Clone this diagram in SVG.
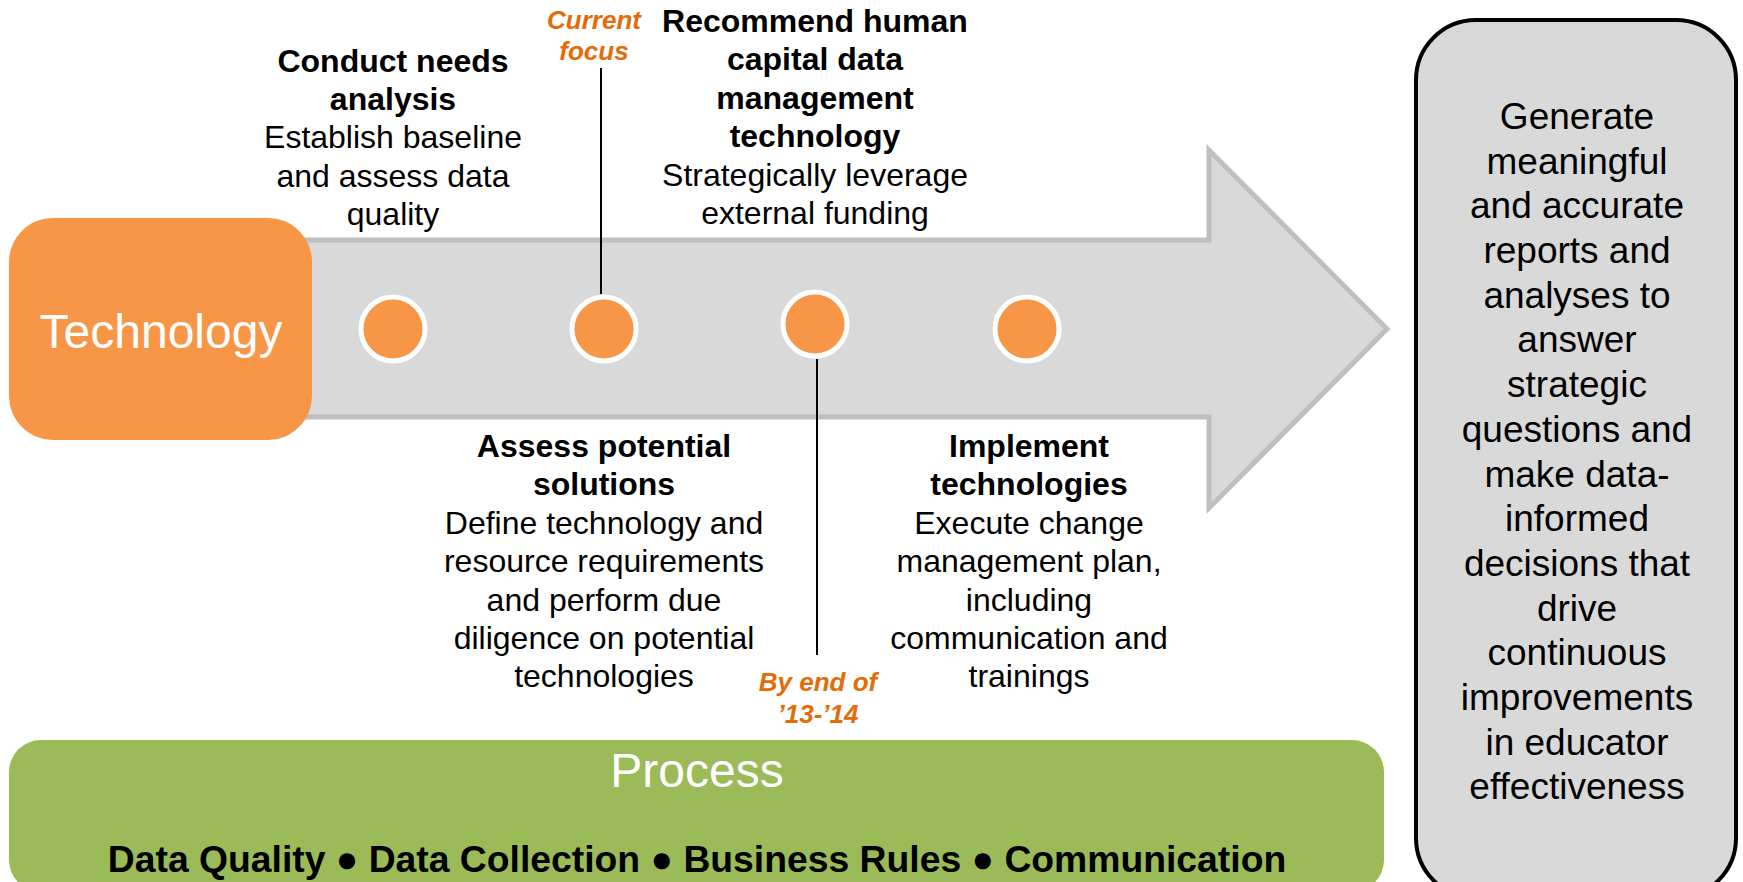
<svg xmlns="http://www.w3.org/2000/svg" width="1743" height="882" viewBox="0 0 1743 882">
<style>
text{font-family:"Liberation Sans",Arial,sans-serif;text-anchor:middle}
.h{font-size:32px;font-weight:bold;fill:#000}
.b{font-size:32px;fill:#000}
.o{font-size:26px;font-weight:bold;font-style:italic;fill:#E36C09}
.dot{fill:#F79646;stroke:#FFFFFF;stroke-width:5}
.ln{stroke:#000;stroke-width:2;fill:none}
</style>
<rect width="1743" height="882" fill="#FFFFFF"/>
<g id="arrow">
<polygon points="280,240 1209,240 1209,150 1387,329 1209,508 1209,417 280,417" fill="#D9D9D9" stroke="#BFBFBF" stroke-width="5"/>
</g>
<g id="technology">
<rect x="9" y="218" width="303" height="222" rx="44" fill="#F79646"/>
<text x="161" y="348" style="font-size:48px;fill:#FFFFFF">Technology</text>
</g>
<g id="connectors">
<line class="ln" x1="601" y1="68" x2="601" y2="294"/>
<line class="ln" x1="817" y1="359" x2="817" y2="655"/>
</g>
<g id="milestone1"><circle class="dot" cx="393" cy="329" r="32"/></g>
<g id="milestone2"><circle class="dot" cx="604" cy="329" r="32"/></g>
<g id="milestone3"><circle class="dot" cx="815" cy="324" r="32"/></g>
<g id="milestone4"><circle class="dot" cx="1027" cy="329" r="32"/></g>
<g id="step1">
<text class="h" x="393" y="72">Conduct needs</text>
<text class="h" x="393" y="110">analysis</text>
<text class="b" x="393" y="148">Establish baseline</text>
<text class="b" x="393" y="187">and assess data</text>
<text class="b" x="393" y="225">quality</text>
</g>
<g id="current-focus">
<text class="o" x="594" y="29">Current</text>
<text class="o" x="594" y="60">focus</text>
</g>
<g id="step3">
<text class="h" x="815" y="32">Recommend human</text>
<text class="h" x="815" y="70">capital data</text>
<text class="h" x="815" y="109">management</text>
<text class="h" x="815" y="147">technology</text>
<text class="b" x="815" y="186">Strategically leverage</text>
<text class="b" x="815" y="224">external funding</text>
</g>
<g id="step2">
<text class="h" x="604" y="457">Assess potential</text>
<text class="h" x="604" y="495">solutions</text>
<text class="b" x="604" y="534">Define technology and</text>
<text class="b" x="604" y="572">resource requirements</text>
<text class="b" x="604" y="611">and perform due</text>
<text class="b" x="604" y="649">diligence on potential</text>
<text class="b" x="604" y="687">technologies</text>
</g>
<g id="by-end">
<text class="o" x="818" y="691">By end of</text>
<text class="o" x="818" y="723">’13-’14</text>
</g>
<g id="step4">
<text class="h" x="1029" y="457">Implement</text>
<text class="h" x="1029" y="495">technologies</text>
<text class="b" x="1029" y="534">Execute change</text>
<text class="b" x="1029" y="572">management plan,</text>
<text class="b" x="1029" y="611">including</text>
<text class="b" x="1029" y="649">communication and</text>
<text class="b" x="1029" y="687">trainings</text>
</g>
<g id="process">
<rect x="9" y="740" width="1375" height="152" rx="32" fill="#9BBB59"/>
<text x="697" y="787" style="font-size:48px;fill:#FFFFFF">Process</text>
<text x="697" y="872" style="font-size:37.3px;font-weight:bold;fill:#000">Data Quality ● Data Collection ● Business Rules ● Communication</text>
</g>
<g id="outcome">
<rect x="1416" y="20" width="320" height="878" rx="60" fill="#D9D9D9" stroke="#000" stroke-width="4"/>
<g style="font-size:37px;fill:#000">
<text x="1577" y="129">Generate</text>
<text x="1577" y="174">meaningful</text>
<text x="1577" y="218">and accurate</text>
<text x="1577" y="263">reports and</text>
<text x="1577" y="308">analyses to</text>
<text x="1577" y="352">answer</text>
<text x="1577" y="397">strategic</text>
<text x="1577" y="442">questions and</text>
<text x="1577" y="487">make data-</text>
<text x="1577" y="531">informed</text>
<text x="1577" y="576">decisions that</text>
<text x="1577" y="621">drive</text>
<text x="1577" y="665">continuous</text>
<text x="1577" y="710">improvements</text>
<text x="1577" y="755">in educator</text>
<text x="1577" y="799">effectiveness</text>
</g>
</g>
</svg>
